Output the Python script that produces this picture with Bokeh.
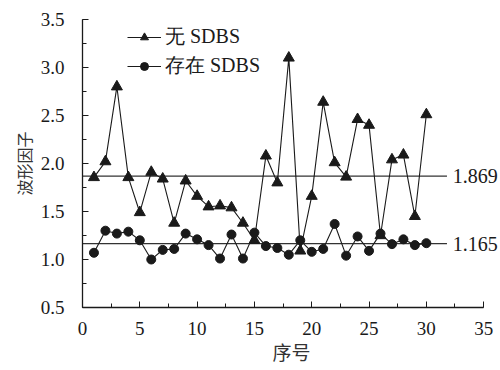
from bokeh.plotting import figure
from bokeh.models import (SingleIntervalTicker, PrintfTickFormatter, Legend, LegendItem,
                          Label, ColumnDataSource)
from bokeh.embed import file_html
from bokeh.resources import INLINE

# ---- data ----
idx = list(range(1, 31))
no_sdbs = [1.855, 2.02, 2.80, 1.855, 1.49, 1.91, 1.84, 1.38, 1.82, 1.66,
           1.55, 1.56, 1.54, 1.38, 1.20, 2.08, 1.80, 3.10, 1.09, 1.66,
           2.64, 2.01, 1.86, 2.46, 2.40, 1.25, 2.04, 2.09, 1.45, 2.51]
with_sdbs = [1.07, 1.30, 1.27, 1.29, 1.20, 1.00, 1.10, 1.11, 1.27, 1.21,
             1.15, 1.01, 1.26, 1.01, 1.28, 1.14, 1.12, 1.05, 1.20, 1.08,
             1.11, 1.37, 1.04, 1.24, 1.09, 1.27, 1.16, 1.21, 1.15, 1.17]
mean_no = 1.869
mean_with = 1.165
mean_labels = ["1.869", "1.165"]
series_names = ["无 SDBS", "存在 SDBS"]

SERIF = "Liberation Serif"
CJK = "Noto Sans CJK SC"
INK = "#1a1a1a"

p = figure(width=500, height=370, x_range=(0, 36.47), y_range=(0.5, 3.5),
           output_backend="svg", toolbar_location=None,
           min_border_left=82, min_border_right=0, min_border_top=19, min_border_bottom=63)
p.outline_line_color = None
p.grid.visible = False
p.background_fill_color = "white"

for ax in (p.xaxis[0], p.yaxis[0]):
    ax.axis_line_color = INK
    ax.axis_line_width = 1.3
    ax.major_tick_line_color = INK
    ax.minor_tick_line_color = INK
    ax.major_tick_in = 6
    ax.major_tick_out = 0
    ax.minor_tick_in = 4
    ax.minor_tick_out = 0
    ax.major_label_text_font = SERIF
    ax.major_label_text_font_size = "19px"
    ax.major_label_text_color = INK
    ax.axis_label_text_font = CJK
    ax.axis_label_text_font_style = "normal"
    ax.axis_label_text_color = "#333333"

p.xaxis.bounds = (0, 35)
p.xaxis.ticker = SingleIntervalTicker(interval=5, num_minor_ticks=2)
p.yaxis.ticker = SingleIntervalTicker(interval=0.5, num_minor_ticks=2)
p.yaxis.formatter = PrintfTickFormatter(format="%.1f")
p.xaxis.axis_label = "序号"
p.yaxis.axis_label = "波形因子"
p.xaxis.axis_label_text_font_size = "19px"
p.yaxis.axis_label_text_font_size = "16px"
p.xaxis.major_label_standoff = 14
p.yaxis.major_label_standoff = 18
p.xaxis.axis_label_standoff = 0
p.yaxis.axis_label_standoff = 2

# reference lines
ref_x = [0, 31.8]
p.line(ref_x, [mean_no, mean_no], line_color="#333333", line_width=1.3)
p.line(ref_x, [mean_with, mean_with], line_color="#333333", line_width=1.3)
for v, t in zip([mean_no, mean_with], mean_labels):
    p.add_layout(Label(x=32.3, y=v, text=t, text_font=SERIF, text_font_size="20px",
                       text_baseline="middle", text_color=INK))

src = ColumnDataSource(dict(x=idx, a=no_sdbs, b=with_sdbs))
l1 = p.line("x", "a", source=src, line_color=INK, line_width=1.1)
m1 = p.scatter("x", "a", source=src, marker="triangle", size=11,
               fill_color=INK, line_color=INK)
l2 = p.line("x", "b", source=src, line_color=INK, line_width=1.1)
m2 = p.scatter("x", "b", source=src, marker="circle", size=9,
               fill_color=INK, line_color=INK)

legend = Legend(items=[LegendItem(label=series_names[0], renderers=[l1, m1]),
                       LegendItem(label=series_names[1], renderers=[l2, m2])],
                location=(45, 228), border_line_color=None, background_fill_alpha=0,
                padding=0, margin=0, spacing=2, glyph_width=34, glyph_height=20,
                label_standoff=4, label_text_font=SERIF, label_text_font_size="20px",
                label_text_color=INK, label_height=20)
p.add_layout(legend, "center")

open("out.html", "w").write(file_html(p, INLINE))
